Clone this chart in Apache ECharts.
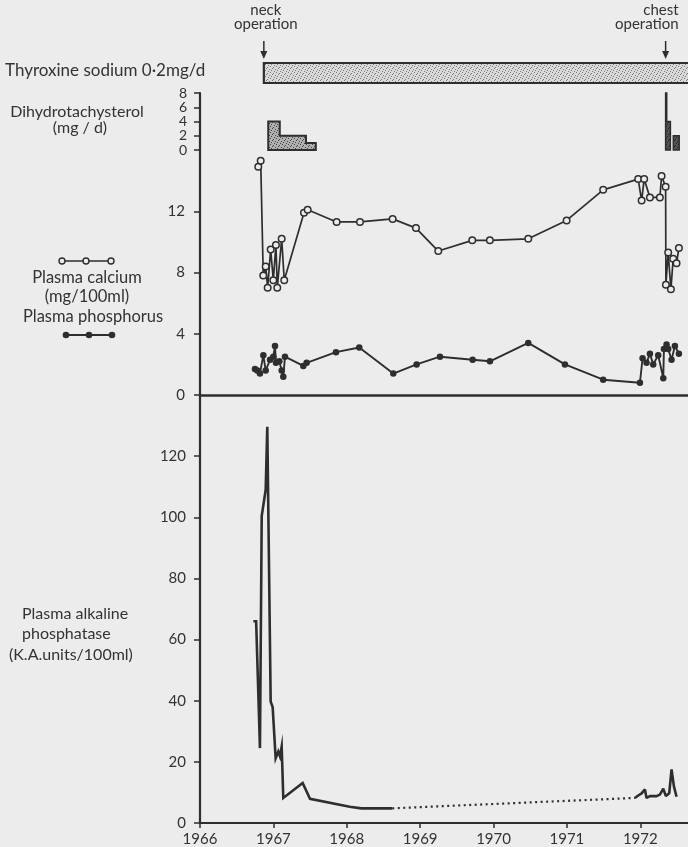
<!DOCTYPE html>
<html><head><meta charset="utf-8">
<script src="https://cdn.jsdelivr.net/npm/echarts@6/dist/echarts.min.js"></script>
<style>html,body{margin:0;padding:0;background:#ececec;}#c{width:688px;height:847px;}</style>
</head><body><div id="c"></div>
<script>
// ---------- DATA ----------
const yearTicks = [1966, 1967, 1968, 1969, 1970, 1971, 1972];
const dihydroTicks = [0, 2, 4, 6, 8];
const mineralTicks = [0, 4, 8, 12];
const phosphataseTicks = [0, 20, 40, 60, 80, 100, 120];

const operationYears = [1966.87, 1972.345];
const operationLabels = ['neck\noperation', 'chest\noperation'];

const thyroxineStart = 1966.87;
const thyroxineEnd = 1972.65;
const thyroxineLabel = 'Thyroxine sodium 0·2mg/d';

const dihydroStart = [1966.93, 1967.087, 1967.444, 1972.345, 1972.36, 1972.45];
const dihydroEnd   = [1967.087, 1967.444, 1967.578, 1972.36, 1972.41, 1972.53];
const dihydroDose  = [4, 2, 1, 8, 4, 2];

const calciumYears = [1966.794, 1966.827, 1966.862, 1966.895, 1966.922, 1966.963, 1966.999, 1967.035, 1967.053, 1967.113,
  1967.148, 1967.417, 1967.467, 1967.862, 1968.18, 1968.625, 1968.943, 1969.247, 1969.71, 1969.95,
  1970.473, 1970.996, 1971.494, 1971.971, 1972.018, 1972.053, 1972.131, 1972.267, 1972.29, 1972.345,
  1972.349, 1972.38, 1972.417, 1972.448, 1972.494, 1972.526];
const calciumValues = [14.9, 15.3, 7.8, 8.4, 7.0, 9.5, 7.5, 9.8, 7.0, 10.2,
  7.5, 11.9, 12.1, 11.3, 11.3, 11.5, 10.9, 9.4, 10.1, 10.1,
  10.2, 11.4, 13.4, 14.1, 12.7, 14.1, 12.9, 12.9, 14.3, 13.6,
  7.2, 9.3, 6.9, 8.9, 8.6, 9.6];

const phosphorusYears = [1966.749, 1966.781, 1966.817, 1966.863, 1966.895, 1966.954, 1966.999, 1967.022, 1967.035, 1967.081,
  1967.113, 1967.135, 1967.158, 1967.408, 1967.453, 1967.853, 1968.17, 1968.634, 1968.952, 1969.27,
  1969.715, 1969.951, 1970.473, 1970.973, 1971.494, 1971.995, 1972.031, 1972.085, 1972.131, 1972.176,
  1972.244, 1972.313, 1972.322, 1972.358, 1972.38, 1972.426, 1972.471, 1972.526];
const phosphorusValues = [1.7, 1.6, 1.4, 2.6, 1.6, 2.3, 2.5, 3.2, 2.1, 2.2,
  1.6, 1.2, 2.5, 1.9, 2.1, 2.8, 3.1, 1.4, 2.0, 2.5,
  2.3, 2.2, 3.4, 2.0, 1.0, 0.8, 2.4, 2.1, 2.7, 2.0,
  2.6, 1.1, 3.0, 3.3, 3.0, 2.3, 3.2, 2.7];

const phosphataseYears1 = [1966.727, 1966.765, 1966.817, 1966.841, 1966.895, 1966.917, 1966.963, 1966.99, 1967.031, 1967.067,
  1967.09, 1967.113, 1967.135, 1967.399, 1967.499, 1968.04, 1968.2, 1968.62];
const phosphataseValues1 = [66, 66, 24.5, 100.4, 109, 129.6, 39.7, 37.9, 21.2, 23.4,
  21.8, 25, 8.2, 13.1, 7.9, 5.3, 4.8, 4.8];
const phosphataseGapYears = [1968.62, 1971.926];
const phosphataseGapValues = [4.8, 8.2];
const phosphataseYears2 = [1971.926, 1971.972, 1972.018, 1972.063, 1972.085, 1972.131, 1972.222, 1972.267, 1972.313, 1972.349,
  1972.394, 1972.426, 1972.458, 1972.494];
const phosphataseValues2 = [8.2, 9.0, 9.7, 11.0, 8.2, 8.8, 8.8, 9.3, 11.2, 8.8,
  9.7, 17.5, 12.0, 8.6];

// ---------- HELPERS ----------
const zip = (a, b) => a.map((v, i) => [v, b[i]]);
const INK = '#2e2e2e';
const FONT = 'Lato, "Open Sans", sans-serif';

function makePattern(bg, dot) {
  const c = document.createElement('canvas');
  c.width = 6; c.height = 6;
  const g = c.getContext('2d');
  g.fillStyle = bg; g.fillRect(0, 0, 6, 6);
  g.fillStyle = dot;
  [[0,0],[3,1],[5,3],[1,4],[4,5],[2,2]].forEach(p => g.fillRect(p[0], p[1], 1, 1));
  return { image: c, repeat: 'repeat' };
}
const thyroxinePattern = makePattern('#d9d9d9', '#7a7a7a');
const dihydroPattern = makePattern('#b0b0b0', '#444');
const dihydroDarkPattern = makePattern('#555', '#1e1e1e');

const dihydroGroups = [];
dihydroStart.forEach((s, i) => {
  const last = dihydroGroups[dihydroGroups.length - 1];
  if (last && Math.abs(dihydroEnd[last[last.length - 1]] - s) < 1e-6) last.push(i);
  else dihydroGroups.push([i]);
});
const dihydroData = dihydroGroups.map((g, gi) => [dihydroStart[g[0]], dihydroEnd[g[g.length - 1]], Math.max(...g.map(k => dihydroDose[k])), gi]);

const xBase = { type: 'value', min: 1966, max: 1972.65, splitLine: { show: false } };
const hiddenX = (gi) => Object.assign({}, xBase, { gridIndex: gi, show: false });

function yAxisOf(gi, min, max, interval, ticks, fontSize, margin) {
  return {
    type: 'value', gridIndex: gi, min: min, max: max, interval: interval,
    axisLine: { show: true, onZero: false, lineStyle: { color: INK, width: 2.2 } },
    axisTick: { show: true, length: 6, customValues: ticks, lineStyle: { color: INK, width: 1.5 } },
    axisLabel: { customValues: ticks, showMinLabel: true, showMaxLabel: true, hideOverlap: false,
      color: '#333', fontFamily: FONT, fontSize: fontSize, lineHeight: fontSize, margin: margin,
      formatter: v => (ticks.indexOf(v) >= 0 ? String(v) : '') },
    splitLine: { show: false }
  };
}

const chart = echarts.init(document.getElementById('c'), null, { renderer: 'canvas' });
chart.setOption({
  backgroundColor: '#ececec',
  animation: false,
  grid: [
    { left: 200, right: 0, top: 0, height: 60 },
    { left: 200, right: 0, top: 63, height: 20 },
    { left: 200, right: 0, top: 93, height: 57 },
    { left: 200, right: 0, top: 150, height: 245 },
    { left: 200, right: 0, top: 395, height: 432 }
  ],
  xAxis: [
    hiddenX(0), hiddenX(1), hiddenX(2),
    Object.assign({}, xBase, { gridIndex: 3,
      axisLine: { show: true, onZero: false, lineStyle: { color: INK, width: 2.5 } },
      axisTick: { show: false }, axisLabel: { show: false } }),
    Object.assign({}, xBase, { gridIndex: 4,
      axisLine: { show: true, onZero: false, lineStyle: { color: INK, width: 2.2 } },
      axisTick: { show: true, length: 5, customValues: yearTicks, lineStyle: { color: INK, width: 1.5 } },
      axisLabel: { customValues: yearTicks, color: '#333', fontFamily: FONT, fontSize: 15, margin: 9,
        formatter: v => (yearTicks.indexOf(v) >= 0 ? String(v) : '') } })
  ],
  yAxis: [
    { type: 'value', gridIndex: 0, min: 0, max: 1, show: false },
    { type: 'value', gridIndex: 1, min: 0, max: 1, show: false },
    yAxisOf(2, 0, 8, 2, dihydroTicks, 14, 13),
    yAxisOf(3, 0, 16, 4, mineralTicks, 15, 15),
    yAxisOf(4, 0, 140, 20, phosphataseTicks, 15, 14)
  ],
  series: [
    {
      type: 'custom', xAxisIndex: 0, yAxisIndex: 0, silent: true,
      data: operationYears.map(y => [y, 0]),
      encode: { x: 0, y: 1 },
      renderItem: function (params, api) {
        const x = api.coord([api.value(0), 0])[0];
        const nearRight = x > 600;
        return { type: 'group', children: [
          { type: 'text', style: { text: operationLabels[params.dataIndex], x: nearRight ? x + 13 : x + 2, y: 3,
              align: nearRight ? 'right' : 'center', verticalAlign: 'top', fill: '#333',
              font: '15px ' + FONT, lineHeight: 14 } },
          { type: 'line', shape: { x1: x, y1: 41, x2: x, y2: 53 }, style: { stroke: INK, lineWidth: 1.5 } },
          { type: 'polygon', shape: { points: [[x - 3.5, 51], [x + 3.5, 51], [x, 59]] }, style: { fill: INK } }
        ] };
      }
    },
    {
      type: 'custom', xAxisIndex: 1, yAxisIndex: 1, silent: true,
      data: [[thyroxineStart, thyroxineEnd]],
      encode: { x: [0, 1] },
      renderItem: function (params, api) {
        const p0 = api.coord([api.value(0), 1]);
        const p1 = api.coord([api.value(1), 0]);
        return { type: 'rect', shape: { x: p0[0], y: p0[1], width: p1[0] - p0[0] + 4, height: p1[1] - p0[1] },
          style: { fill: thyroxinePattern, stroke: INK, lineWidth: 2.2 } };
      }
    },
    {
      type: 'custom', xAxisIndex: 2, yAxisIndex: 2, silent: true,
      data: dihydroData,
      encode: { x: [0, 1], y: 2 },
      renderItem: function (params, api) {
        const g = dihydroGroups[api.value(3)];
        const pts = [api.coord([dihydroStart[g[0]], 0])];
        g.forEach(k => {
          pts.push(api.coord([dihydroStart[k], dihydroDose[k]]));
          pts.push(api.coord([dihydroEnd[k], dihydroDose[k]]));
        });
        pts.push(api.coord([dihydroEnd[g[g.length - 1]], 0]));
        const dark = dihydroStart[g[0]] > 1970;
        return { type: 'polygon', shape: { points: pts },
          style: { fill: dark ? dihydroDarkPattern : dihydroPattern, stroke: INK, lineWidth: dark ? 1.5 : 2 } };
      }
    },
    {
      type: 'line', xAxisIndex: 3, yAxisIndex: 3, data: zip(calciumYears, calciumValues),
      symbol: 'circle', symbolSize: 6.5, showAllSymbol: true,
      lineStyle: { color: INK, width: 1.7 },
      itemStyle: { color: '#ececec', borderColor: INK, borderWidth: 1.5 }
    },
    {
      type: 'line', xAxisIndex: 3, yAxisIndex: 3, data: zip(phosphorusYears, phosphorusValues),
      symbol: 'circle', symbolSize: 6.5, showAllSymbol: true,
      lineStyle: { color: INK, width: 1.9 },
      itemStyle: { color: INK }
    },
    {
      type: 'line', xAxisIndex: 4, yAxisIndex: 4, data: zip(phosphataseYears1, phosphataseValues1),
      showSymbol: false, lineStyle: { color: INK, width: 2.6, join: 'miter' }
    },
    {
      type: 'line', xAxisIndex: 4, yAxisIndex: 4, data: zip(phosphataseGapYears, phosphataseGapValues),
      showSymbol: false, lineStyle: { color: INK, width: 2.2, type: [2, 3.5] }
    },
    {
      type: 'line', xAxisIndex: 4, yAxisIndex: 4, data: zip(phosphataseYears2, phosphataseValues2),
      showSymbol: false, lineStyle: { color: INK, width: 2.6 }
    }
  ],
  graphic: [
    { type: 'text', left: 5, top: 62, style: { text: thyroxineLabel, font: '17px ' + FONT, fill: '#333' } },
    { type: 'text', x: 77, y: 112, style: { text: 'Dihydrotachysterol', font: '16px ' + FONT, fill: '#333', align: 'center', verticalAlign: 'middle' } },
    { type: 'text', x: 80, y: 128, style: { text: '(mg / d)', font: '16px ' + FONT, fill: '#333', align: 'center', verticalAlign: 'middle' } },
    { type: 'line', shape: { x1: 62, y1: 261, x2: 111, y2: 261 }, style: { stroke: INK, lineWidth: 1.5 } },
    { type: 'circle', shape: { cx: 62, cy: 261, r: 3 }, style: { fill: '#ececec', stroke: INK, lineWidth: 1.4 } },
    { type: 'circle', shape: { cx: 86, cy: 261, r: 3 }, style: { fill: '#ececec', stroke: INK, lineWidth: 1.4 } },
    { type: 'circle', shape: { cx: 111, cy: 261, r: 3 }, style: { fill: '#ececec', stroke: INK, lineWidth: 1.4 } },
    { type: 'text', x: 87, y: 278, style: { text: 'Plasma calcium', font: '16.5px ' + FONT, fill: '#333', align: 'center', verticalAlign: 'middle' } },
    { type: 'text', x: 87, y: 297, style: { text: '(mg/100ml)', font: '16.5px ' + FONT, fill: '#333', align: 'center', verticalAlign: 'middle' } },
    { type: 'text', x: 93, y: 317, style: { text: 'Plasma phosphorus', font: '16.5px ' + FONT, fill: '#333', align: 'center', verticalAlign: 'middle' } },
    { type: 'line', shape: { x1: 66, y1: 335, x2: 112, y2: 335 }, style: { stroke: INK, lineWidth: 1.8 } },
    { type: 'circle', shape: { cx: 66, cy: 335, r: 3.3 }, style: { fill: INK } },
    { type: 'circle', shape: { cx: 89, cy: 335, r: 3.3 }, style: { fill: INK } },
    { type: 'circle', shape: { cx: 112, cy: 335, r: 3.3 }, style: { fill: INK } },
    { type: 'text', x: 22, y: 614, style: { text: 'Plasma alkaline', font: '16px ' + FONT, fill: '#333', verticalAlign: 'middle' } },
    { type: 'text', x: 22, y: 634, style: { text: 'phosphatase', font: '16px ' + FONT, fill: '#333', verticalAlign: 'middle' } },
    { type: 'text', x: 9, y: 655, style: { text: '(K.A.units/100ml)', font: '16px ' + FONT, fill: '#333', verticalAlign: 'middle' } }
  ]
});
</script>
</body></html>
